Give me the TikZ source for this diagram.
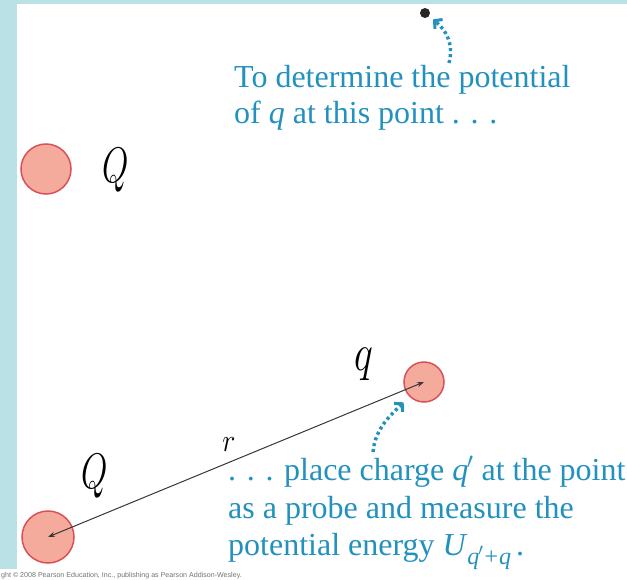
\RequirePackage{fix-cm}
\documentclass[tikz,border=0pt]{standalone}
\usepackage{fontspec}
\setmainfont{Liberation Serif}
\newfontfamily\cpfont{Liberation Sans}
\usetikzlibrary{arrows.meta}
\definecolor{stripcol}{RGB}{186,226,230}
\definecolor{probeblue}{RGB}{35,145,190}
\definecolor{chargefill}{RGB}{245,171,156}
\definecolor{chargeline}{RGB}{217,80,90}
\definecolor{linegray}{RGB}{55,55,55}
\begin{document}
\begin{tikzpicture}[x=1pt,y=-1pt,
  charge/.style={circle,fill=chargefill,draw=chargeline,line width=1.5pt,inner sep=0pt},
  blackdot/.style={circle,fill=black!85,inner sep=0pt,minimum size=10pt},
  biglab/.style={inner sep=0pt,font=\fontsize{40}{40}\selectfont},
  btxt/.style={anchor=base west,inner sep=0pt,text=probeblue,font=\fontsize{32}{36}\selectfont},
  dotarrow/.style={probeblue,line width=3.4pt,dash pattern=on 3pt off 3pt,
     -{Straight Barb[length=5.5pt,width=12pt,line width=3pt]}},
  rline/.style={linegray,line width=1pt,{Stealth[length=7pt,width=5pt]}-{Stealth[length=7pt,width=5pt]}}
]
\useasboundingbox (0,0) rectangle (627,580);
\fill[white] (0,0) rectangle (627,580);
\fill[stripcol] (0,0) rectangle (627,4);
\fill[stripcol] (0,0) rectangle (17,569);

% charges
\node[charge,minimum size=50pt] (Qt) at (46,169) {};
\node[charge,minimum size=52pt] (Qb) at (48,537) {};
\node[charge,minimum size=40pt] (qc) at (424,382) {};
\node[blackdot] (dot) at (425,13) {};

% labels
\node[biglab] (Qtl) at (116,170) {\scalebox{0.85}[1.25]{$Q$}};
\node[biglab] (Qbl) at (95,476) {\scalebox{0.85}[1.25]{$Q$}};
\node[biglab] (ql) at (364,364) {\scalebox{1}[1.3]{$q$}};
\node[inner sep=0pt,font=\fontsize{28}{28}\selectfont] (rl) at (229,445) {\scalebox{1}[1.15]{$r$}};

% separation line
\draw[rline] (Qb.center) -- (qc.center);

% upper text
\node[btxt] (t1) at (234,88) {To determine the potential};
\node[btxt] (t2) at (234,124) {of \textit{q} at this point . . .};

% lower text
\node[btxt] (b1) at (228,480) {. . . place charge \textit{q}\kern-1.5pt$'$ at the point};
\node[btxt] (b2) at (228,518) {as a probe and measure the};
\node[btxt] (b3) at (228,555) {potential energy \textit{U}\raisebox{-9pt}{\fontsize{24}{24}\selectfont\textit{q}\kern-1pt$'$\kern1pt+\kern1pt\textit{q}}\kern5pt.};

% dotted arrows
\coordinate (a1) at (449,63);
\draw[dotarrow,shorten >=5pt] (a1) .. controls (454,44) and (446,30) .. (dot);
\coordinate (a2) at (373,452);
\draw[dotarrow,shorten >=8pt] (a2) .. controls (375,428) and (392,414) .. (qc);

% copyright
\node[anchor=base west,inner sep=0pt,text=black!55,font=\cpfont\fontsize{7.1}{7.1}\selectfont] (cp) at (1,577)
  {ght \textcopyright{} 2008 Pearson Education, Inc., publishing as Pearson Addison-Wesley.};
\end{tikzpicture}
\end{document}
